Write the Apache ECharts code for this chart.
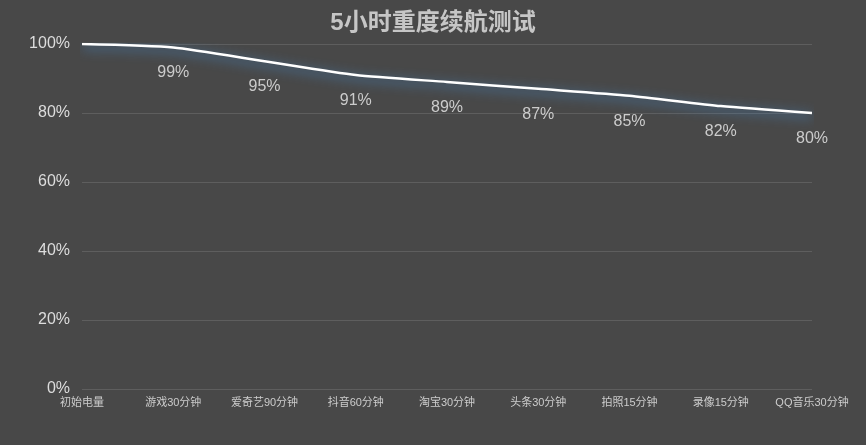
<!DOCTYPE html>
<html>
<head>
<meta charset="utf-8">
<script src="https://cdn.jsdelivr.net/npm/echarts@6/dist/echarts.min.js"></script>
<style>
html,body{margin:0;padding:0;background:#484848;}
#c{width:866px;height:445px;}
</style>
</head>
<body>
<div id="c"></div>
<script>
var titleText = '5小时重度续航测试';
var categories = ['初始电量','游戏30分钟','爱奇艺90分钟','抖音60分钟','淘宝30分钟','头条30分钟','拍照15分钟','录像15分钟','QQ音乐30分钟'];
var batteryValues = [100, 99, 95, 91, 89, 87, 85, 82, 80];
var pointLabels = ['', '99%', '95%', '91%', '89%', '87%', '85%', '82%', '80%'];

var FONT = '"Liberation Sans", "Noto Sans CJK SC", sans-serif';
var chart = echarts.init(document.getElementById('c'));
chart.setOption({
  backgroundColor: '#484848',
  animation: false,
  title: {
    text: titleText,
    left: 'center',
    top: 6,
    textStyle: { color: '#c6c6c6', fontSize: 24, fontWeight: 'bold', fontFamily: FONT }
  },
  grid: { left: 82, right: 54, top: 44, bottom: 56 },
  xAxis: {
    type: 'category',
    data: categories,
    boundaryGap: false,
    axisLine: { show: false },
    axisTick: { show: false },
    axisLabel: { color: '#cccccc', fontSize: 11, margin: 8, fontFamily: FONT, interval: 0 }
  },
  yAxis: {
    type: 'value',
    min: 0, max: 100, interval: 20,
    axisLine: { show: false },
    axisTick: { show: false },
    axisLabel: { formatter: '{value}%', color: '#dddddd', fontSize: 16, margin: 12, fontFamily: FONT },
    splitLine: { lineStyle: { color: '#5e5e5e', width: 1 } }
  },
  series: [{
    type: 'line',
    data: batteryValues,
    smooth: 0.2,
    showSymbol: true,
    symbol: 'circle',
    symbolSize: 1,
    itemStyle: { color: 'rgba(255,255,255,0)' },
    lineStyle: {
      color: '#ffffff', width: 2.5,
      shadowColor: 'rgba(70,145,215,1)', shadowBlur: 12, shadowOffsetY: 3
    },
    label: {
      show: true, position: 'bottom', distance: 17,
      formatter: function (p) { return pointLabels[p.dataIndex]; },
      color: '#cccccc', fontSize: 16, fontFamily: FONT
    }
  }]
});
</script>
</body>
</html>
